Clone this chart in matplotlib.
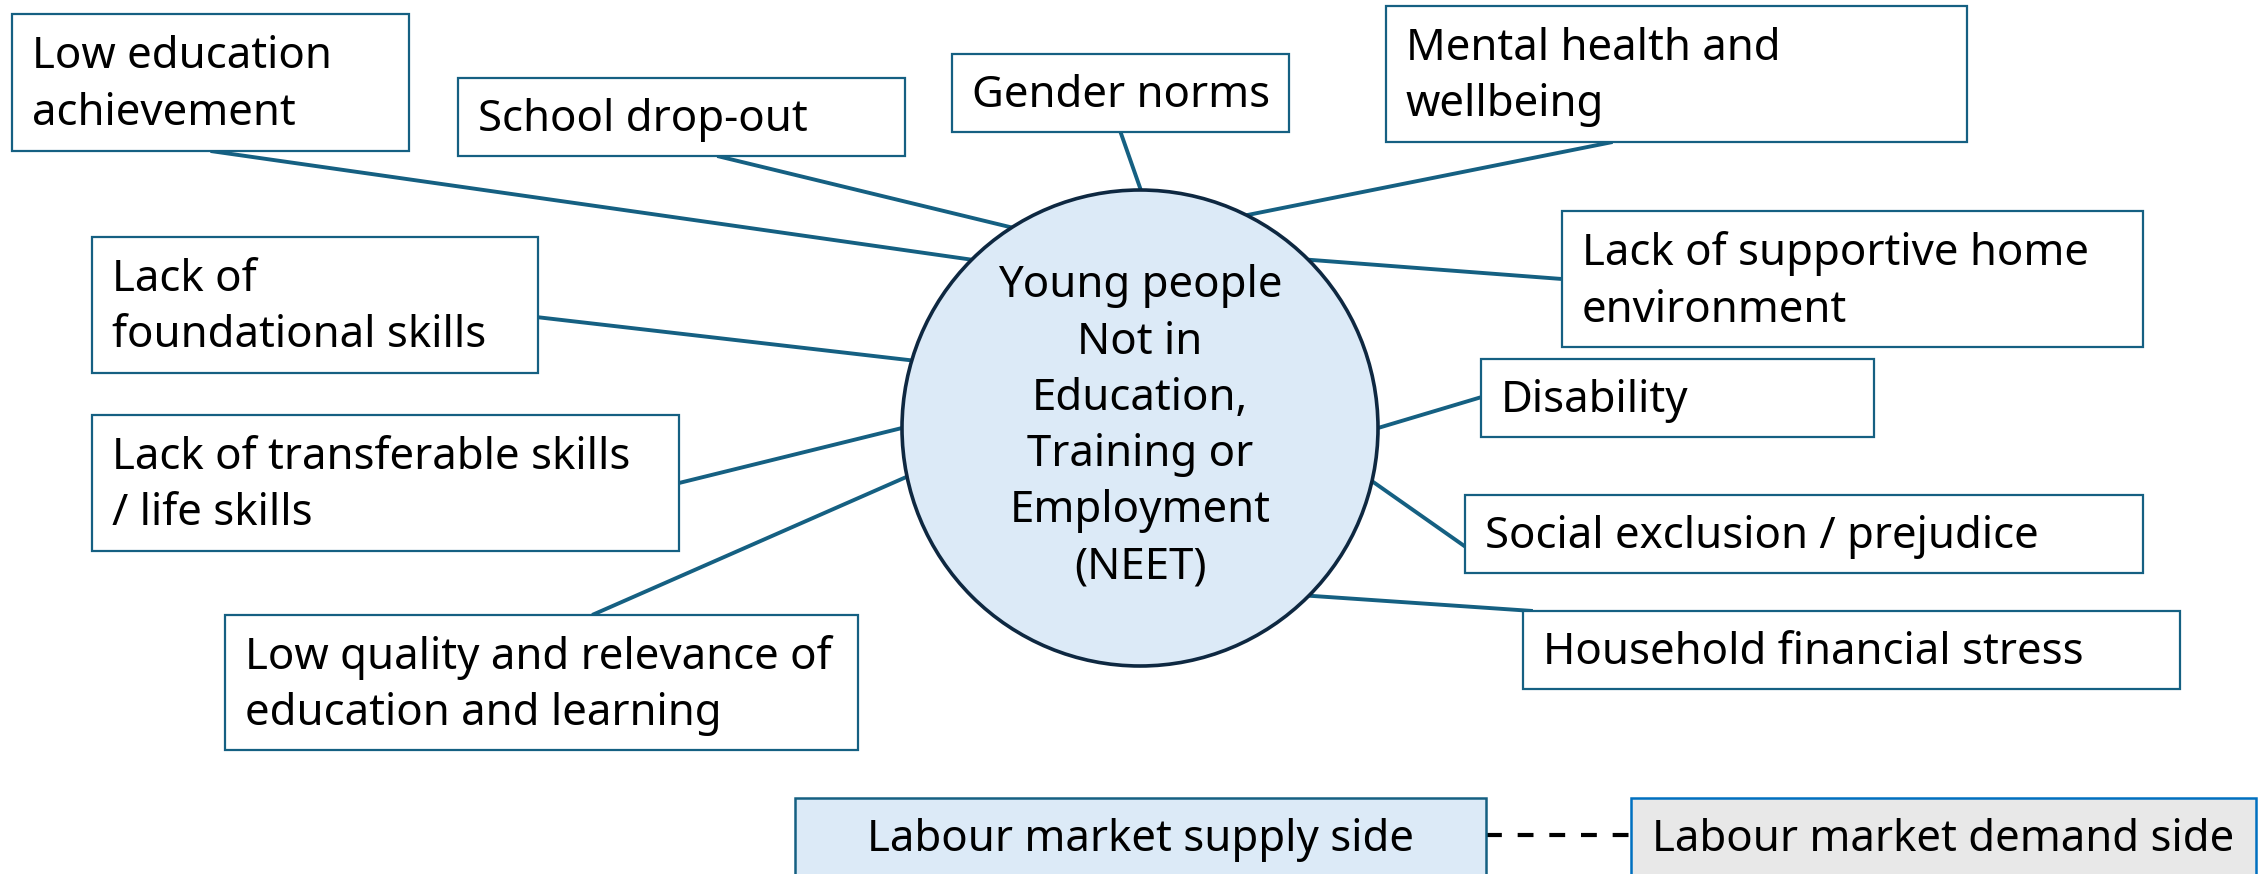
import numpy as np
import matplotlib
matplotlib.use("Agg")
import matplotlib.pyplot as plt
from matplotlib.patches import Rectangle, Circle

plt.rcParams['font.family'] = ['Noto Sans', 'DejaVu Sans']

# factors around the centre
labels = [
    "Low education\nachievement",
    "School drop-out",
    "Gender norms",
    "Mental health and\nwellbeing",
    "Lack of supportive home\nenvironment",
    "Disability",
    "Social exclusion / prejudice",
    "Household financial stress",
    "Lack of\nfoundational skills",
    "Lack of transferable skills\n/ life skills",
    "Low quality and relevance of\neducation and learning",
]
centre_label = "Young people\nNot in\nEducation,\nTraining or\nEmployment\n(NEET)"
supply_label = "Labour market supply side"
demand_label = "Labour market demand side"

# layout (pixels, y down): box = (left, top, right, bottom)
boxes = [
    (12, 14, 409, 151),
    (458, 78, 905, 156),
    (952, 54, 1289, 132),
    (1386, 6, 1967, 142),
    (1562, 211, 2143, 347),
    (1481, 359, 1874, 437),
    (1465, 495, 2143, 573),
    (1523, 611, 2180, 689),
    (92, 237, 538, 373),
    (92, 415, 679, 551),
    (225, 615, 858, 750),
]
# where each connector leaves its box: (side, fraction along side)
anchors = [
    ('bottom', 0.50), ('bottom', 0.58), ('bottom', 0.50), ('bottom', 0.39),
    ('left', 0.50), ('left', 0.49), ('left', 0.66), ('top', 0.015),
    ('right', 0.59), ('right', 0.50), ('top', 0.58),
]
# angle (deg, screen coords) where connector meets the circle
angles = [-135, -122.6, -89.8, -63.4, -45, 0, 12.9, 44.8, -163.5, 180, 168.2]

cx, cy, r = 1140, 428, 238
supply_box = (795, 798, 1486, 880)
demand_box = (1631, 798, 2256, 880)

line_col = '#156082'
fs = 31.5

fig = plt.figure(figsize=(22.64, 8.74), dpi=100)
ax = fig.add_axes([0, 0, 1, 1])
ax.set_xlim(0, 2264)
ax.set_ylim(874, 0)
ax.axis('off')


def anchor_point(box, side, f):
    l, t, rr, b = box
    if side == 'bottom':
        return l + f * (rr - l), b
    if side == 'top':
        return l + f * (rr - l), t
    if side == 'left':
        return l, t + f * (b - t)
    return rr, t + f * (b - t)


for box, (side, f), a in zip(boxes, anchors, angles):
    x0, y0 = anchor_point(box, side, f)
    x1 = cx + r * np.cos(np.radians(a))
    y1 = cy + r * np.sin(np.radians(a))
    ax.plot([x0, x1], [y0, y1], color=line_col, lw=2.8, zorder=1,
            solid_capstyle='butt')

ax.add_patch(Circle((cx, cy), r, facecolor='#DCEAF7', edgecolor='#0E2841',
                    lw=2.6, zorder=2))
ax.text(cx, cy - 1, centre_label, ha='center', va='center', fontsize=fs,
        linespacing=1.37, zorder=4)

for box, lab in zip(boxes, labels):
    l, t, rr, b = box
    ax.add_patch(Rectangle((l, t), rr - l, b - t, facecolor='white',
                           edgecolor=line_col, lw=1.6, zorder=3))
    ax.text(l + 20, (t + b) / 2 + 3, lab, ha='left', va='center', fontsize=fs,
            linespacing=1.38, zorder=4)

# labour market boxes
for box, lab, fc, ec in [(supply_box, supply_label, '#DCEAF7', line_col),
                         (demand_box, demand_label, '#E8E8E8', '#0070C0')]:
    l, t, rr, b = box
    ax.add_patch(Rectangle((l, t), rr - l, b - t, facecolor=fc,
                           edgecolor=ec, lw=1.8, zorder=3))
    ax.text((l + rr) / 2, 840, lab, ha='center', va='center', fontsize=fs,
            zorder=4)

ax.plot([supply_box[2], demand_box[0]], [835, 835], color='black', lw=3,
        linestyle=(0, (3.8, 3.8)), zorder=1)

fig.savefig('out.png', dpi=100)
